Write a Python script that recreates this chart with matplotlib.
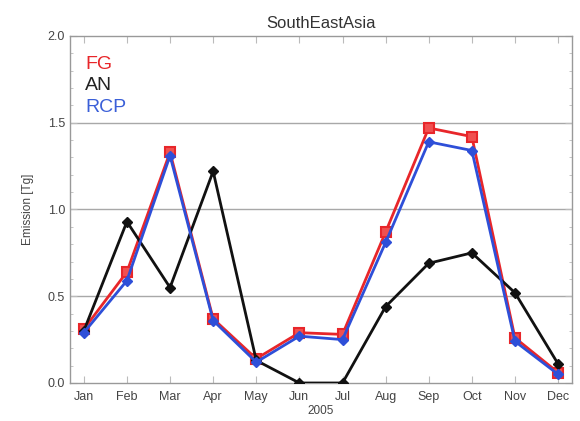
import matplotlib
matplotlib.use("Agg")
import matplotlib.pyplot as plt
from matplotlib.ticker import MultipleLocator

plt.rcParams['font.family'] = ['Liberation Sans', 'DejaVu Sans']

months = ["Jan", "Feb", "Mar", "Apr", "May", "Jun",
          "Jul", "Aug", "Sep", "Oct", "Nov", "Dec"]
fg = [0.31, 0.64, 1.33, 0.37, 0.14, 0.29, 0.28, 0.87, 1.47, 1.42, 0.26, 0.06]
an = [0.30, 0.93, 0.55, 1.22, 0.13, 0.00, 0.00, 0.44, 0.69, 0.75, 0.52, 0.11]
rcp = [0.29, 0.59, 1.31, 0.36, 0.12, 0.27, 0.25, 0.81, 1.39, 1.34, 0.24, 0.05]
yticks = [0.0, 0.5, 1.0, 1.5, 2.0]

fig = plt.figure(figsize=(5.8, 4.21), dpi=100)
ax = fig.add_axes([0.1207, 0.0903, 0.8653, 0.8242])

x = list(range(len(months)))
ax.plot(x, fg, color="#e8262a", lw=2.0, marker="s", ms=6.5,
        mfc="#f05050", mec="#e8262a", mew=1.5, zorder=3)
ax.plot(x, an, color="#111111", lw=2.0, marker="D", ms=5.5,
        mfc="#111111", mec="#111111", zorder=4)
ax.plot(x, rcp, color="#2e4fd8", lw=2.0, marker="D", ms=5.5,
        mfc="#2e4fd8", mec="#2e4fd8", zorder=5)

ax.set_xlim(-0.32, 11.32)
ax.set_ylim(0.0, 2.0)
ax.set_xticks(x)
ax.set_xticklabels(months)
ax.set_yticks(yticks)
ax.set_yticklabels([f"{v:.1f}" for v in yticks])
ax.yaxis.set_minor_locator(MultipleLocator(0.1))

for v in yticks[1:-1]:
    ax.axhline(v, color="#a8a8a8", lw=1.0, zorder=1)

ax.tick_params(axis="both", which="both", direction="in", colors="#bbbbbb",
               labelcolor="#444444", labelsize=9, top=True, right=True)
ax.tick_params(axis="both", which="major", length=5)
ax.tick_params(axis="both", which="minor", length=2.5)
ax.tick_params(axis="x", pad=6)
for s in ax.spines.values():
    s.set_color("#999999")
    s.set_linewidth(1.0)

ax.set_title("SouthEastAsia", fontsize=12, color="#333333", pad=6)
ax.set_ylabel("Emission [Tg]", fontsize=8.5, color="#444444", labelpad=10)
ax.set_xlabel("2005", fontsize=8.5, color="#444444", labelpad=1)

ax.text(0.03, 0.905, "FG", transform=ax.transAxes, color="#e8262a", fontsize=14)
ax.text(0.03, 0.843, "AN", transform=ax.transAxes, color="#222222", fontsize=14)
ax.text(0.03, 0.78, "RCP", transform=ax.transAxes, color="#3a5fd8", fontsize=14)

fig.savefig("out.png", dpi=100)
